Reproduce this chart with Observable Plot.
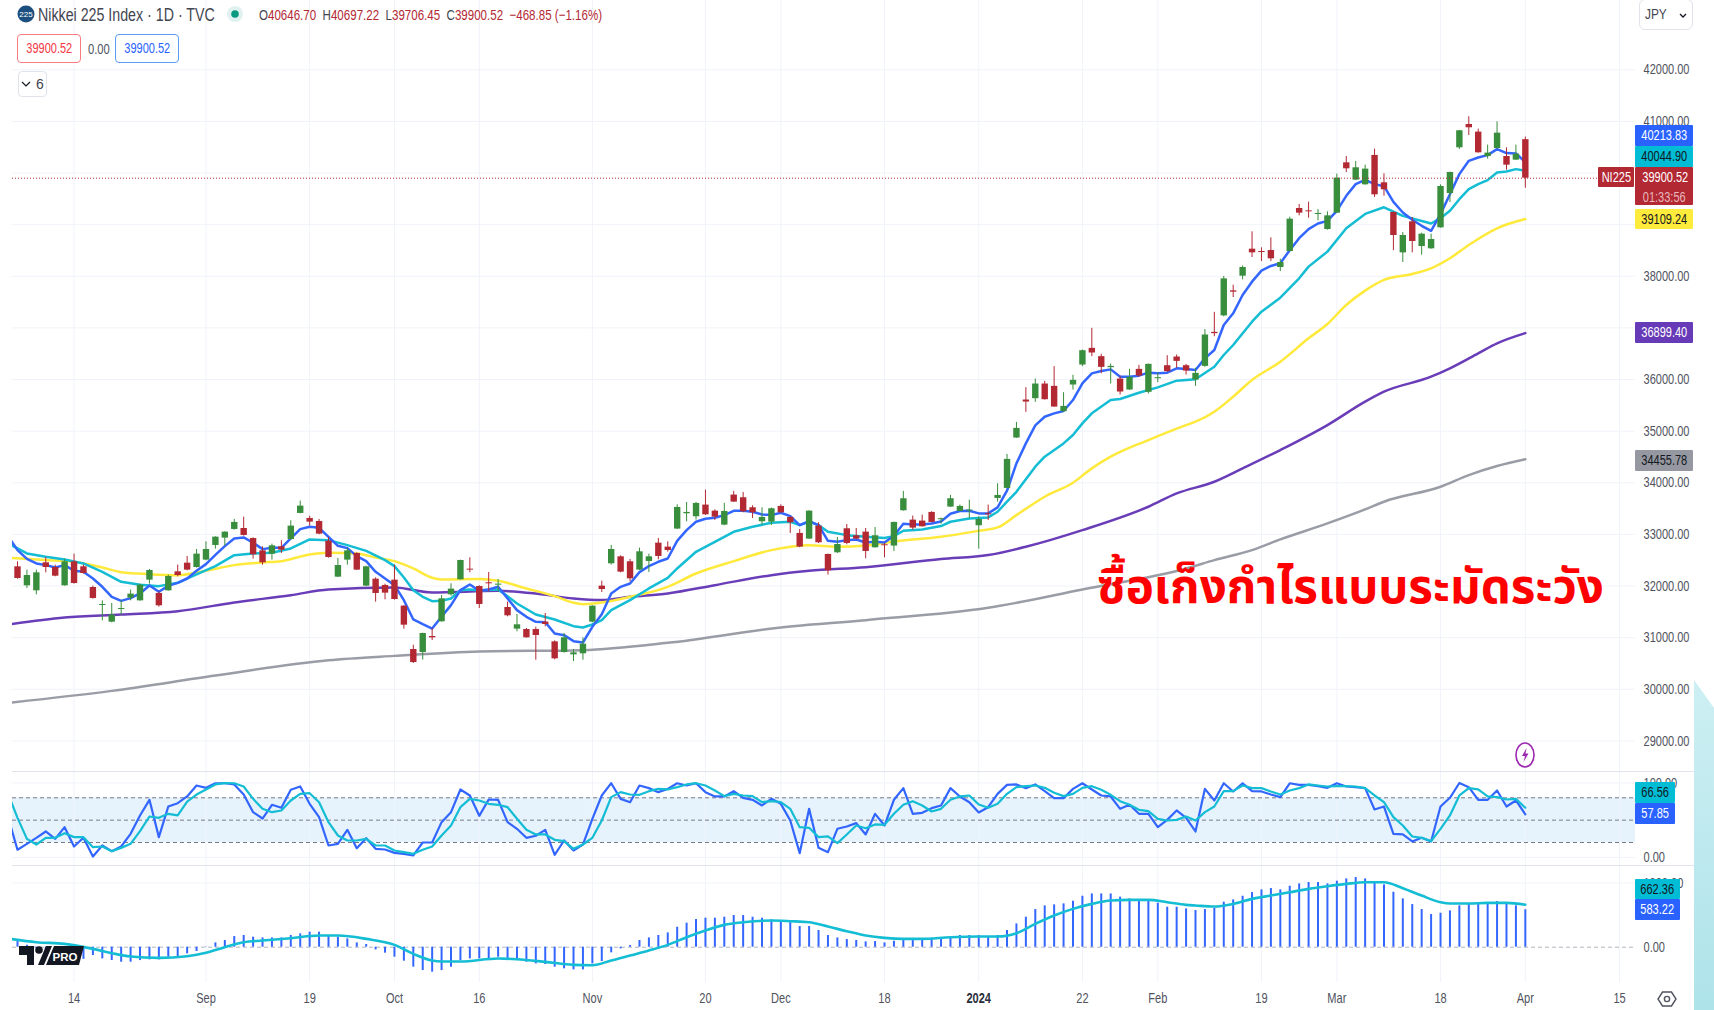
<!DOCTYPE html>
<html><head><meta charset="utf-8">
<script src="https://cdn.jsdelivr.net/npm/d3@7"></script>
<script src="https://cdn.jsdelivr.net/npm/@observablehq/plot@0.6"></script>
<style>
html,body{margin:0;padding:0;background:#fff;width:1714px;height:1010px;overflow:hidden}
#page{position:relative;width:1714px;height:1010px;font-family:"Liberation Sans",sans-serif;color:#131722}
</style></head><body><div id="page"></div>
<script>
const open=[32372,32004,31907,32450,32359,32004,32469,32372,31972,31623,
31300,31546,31765,31713,32114,31856,31907,32275,32443,32359,
32502,32786,32928,33096,33115,32921,32682,32618,32760,32902,
33406,33309,33251,32870,32172,32502,32631,31998,32133,32011,
32114,31610,30770,30712,31022,31307,31830,32121,32327,31991,
32063,32017,31584,31165,31158,31158,31300,30919,30712,30667,
30687,31300,31998,32431,32566,32470,32308,32476,32831,32754,
33103,33400,33342,33568,33451,33180,33762,33710,33516,33245,
33238,33542,33329,33019,32909,33161,32612,32644,33109,32973,
33044,32741,32799,32774,33458,33277,33258,33426,33284,33529,
33445,33452,33168,33400,33697,33891,34867,35603,35629,35913,
35868,35377,35894,36281,36604,36443,36230,36010,35797,36197,
35752,36016,36268,36436,36268,35991,36255,36914,37233,37718,
38002,38525,38480,38499,38170,38480,39313,39268,39197,38906,
39223,40198,39863,39772,40341,39811,39236,38454,39055,38577,
38532,38939,39604,40489,40941,40793,40321,40476,40321,40250,40646.70];
const close=[32146,32204,32256,32359,32191,32469,32049,32243,31759,31642,
31436,31565,31843,32017,32301,31617,32185,32204,32308,32618,
32708,32947,33044,33232,32980,32605,32450,32779,32695,33161,
33548,33238,33005,32553,32398,32682,32308,32372,31856,31862,
31739,31242,30518,31080,30996,31752,31940,32495,32308,31643,
32043,32037,31423,31249,30997,31042,31255,30590,30997,30706,
30874,31610,31933,32708,32269,32140,32663,32566,32573,32689,
33522,33426,33600,33380,33335,33445,33626,33438,33419,33329,
33497,33419,33225,32754,33451,32838,32295,32805,32825,32909,
32670,32974,32780,33232,33691,33122,33148,33232,33303,33691,
33542,33471,33290,33381,33755,34453,35054,35564,35913,35609,
35467,35480,35984,36559,36514,36236,36255,35758,36042,36068,
36294,36036,36152,36352,36165,36120,36863,36889,37950,37692,
38170,38454,38461,38338,38267,39107,39223,39249,39217,39171,
39901,40082,40102,40076,39578,39675,38790,38790,38674,38816,
38713,39740,40011,40819,40877,40392,40386,40773,40153,40366,39900.52];
const high=[32469,32308,32308,32553,32405,32521,32618,32405,31998,31713,
31662,31713,31920,32036,32321,31888,32211,32405,32573,32708,
32857,32954,33051,33290,33335,32934,32760,32812,32876,33264,
33645,33354,33290,32941,32534,32728,32644,32385,32159,32036,
32405,31623,30854,31087,31177,31817,32043,32502,32547,32004,
32263,32127,31688,31449,31177,31203,31468,30938,31081,30770,
30997,31617,32095,32786,32586,32515,32734,32618,32922,32857,
33574,33619,33619,33858,33477,33600,33833,33813,33555,33516,
33510,33574,33342,33096,33458,33225,32618,32941,33193,33115,
33115,33135,32825,33239,33833,33355,33374,33439,33316,33755,
33568,33665,33342,33568,33981,34550,35170,35842,36010,35965,
36249,35745,36081,36572,36992,36488,36301,36068,36197,36275,
36301,36133,36462,36475,36294,36217,36966,37302,37996,37828,
38202,38861,38551,38745,38332,39145,39391,39436,39294,39249,
39979,40321,40224,40153,40463,39985,39249,38848,39139,38835,
38816,39772,40018,40825,41090,40851,40541,40993,40489,40541,40697.22];
const low=[32133,31952,31830,32256,32179,31998,32036,32230,31746,31326,
31287,31436,31713,31707,32036,31591,31901,32179,32295,32347,
32489,32715,32773,33083,32967,32521,32405,32502,32631,32889,
33400,33161,32993,32540,32166,32405,32301,31985,31688,31733,
31726,31164,30499,30564,30945,31300,31804,32114,32256,31565,
31895,31888,31404,31113,30990,30564,31210,30570,30699,30538,
30564,31287,31875,32405,32256,32082,32302,32263,32508,32657,
33096,33245,33277,33367,33271,33167,33619,33419,33309,33180,
33174,33406,33019,32741,32902,32825,32211,32631,32799,32896,
32528,32735,32547,32670,33452,33084,33142,33226,33200,33523,
33439,33310,32715,33271,33626,33885,34860,35364,35558,35603,
35461,35370,35797,36249,36443,36113,35913,35700,35790,36042,
35719,35939,36139,36217,36087,35868,36236,36830,37214,37589,
37931,38364,38286,38286,38092,38474,39171,39126,39074,38894,
39217,40011,39856,39766,39527,39552,38499,38267,38454,38409,
38525,38932,39430,40457,40728,40386,40270,40463,40056,40244,39706.45];

// moving averages: blue has one value per bar from bar -1, the others are read at the listed bars
const blueVals=[32967,32695,32527,32437,32405,32360,32405,32295,32275,32146,
31985,31790,31713,31765,31856,32011,31888,32004,32062,32146,
32295,32424,32605,32773,32921,32941,32838,32715,32740,32740,
32921,33102,33148,33128,32954,32779,32734,32579,32482,32275,
32146,32017,31726,31352,31261,31177,31404,31630,31920,32030,
31907,31933,31985,31759,31533,31404,31307,31300,31081,31048,
30932,30906,31210,31455,31856,31985,32050,32269,32386,32470,
32534,32876,33083,33245,33303,33322,33374,33458,33458,33438,
33387,33374,33419,33355,33180,33258,33180,32876,32857,32889,
32902,32844,32857,32845,32974,33206,33193,33193,33213,33251,
33400,33452,33458,33407,33407,33523,33846,34376,34763,35112,
35280,35345,35390,35603,35926,36120,36165,36197,36055,36055,
36075,36133,36120,36133,36217,36204,36184,36410,36572,37056,
37283,37638,37896,38110,38200,38252,38506,38738,38913,39023,
39074,39268,39559,39785,39869,39785,39746,39443,39236,39094,
38978,38881,39204,39591,39979,40237,40302,40347,40463,40386,
40379,40213.83];
const tealBars=[-1,1,3,5,7,9,11,13,15,17,19,21,23,25,27,29,31,33,35,37,39,40,41,42,43,44,
45,46,47,48,49,51,52,53,55,57,59,60,61,62,63,65,67,69,70,72,74,76,78,80,82,83,84,85,86,88,90,
92,93,94,96,98,99,101,103,104,105,106,108,109,111,112,113,114,116,117,119,121,123,125,127,128,129,131,132,133,134,136,137,139,141,143,145,147,150,151,152,153,154,155,156,157,158,159,160];
const tealVals=[32825,32631,32566,32515,32437,32275,32082,32024,31998,32062,32224,32385,32598,32631,32644,32728,32902,32889,32792,32682,32502,32385,32166,31920,31791,31707,
31714,31759,31920,31933,31920,31933,31804,31662,31449,31352,31223,31197,31255,31339,31533,31727,31953,32159,32340,32663,32857,33051,33148,33225,33245,33180,33245,33180,33051,32986,32954,
32929,32967,33071,33096,33161,33245,33310,33329,33439,33633,33826,34311,34505,34763,34925,35151,35345,35603,35622,35745,35848,35978,36004,36249,36475,36669,37121,37315,37450,37586,37961,38187,38478,38930,39208,39337,39171,39023,39126,39268,39494,39688,39785,39863,40011,40030,40076,40044.90];
const yellowBars=[-1,3,6,9,11,14,17,20,23,26,28,31,33,36,38,40,42,44,45,49,51,54,57,59,60,62,65,69,72,76,80,84,87,90,93,98,102,104,106,109,112,114,116,120,124,125,127,129,131,134,137,139,141,143,145,148,150,152,154,157,160];
const yellowVals=[32547,32502,32469,32359,32269,32230,32211,32295,32405,32456,32482,32611,32644,32631,32553,32482,32340,32159,32127,32134,32101,31953,31804,31675,31649,31681,31791,31985,32243,32482,32696,32792,32760,32786,32864,32954,33071,33135,33374,33730,34001,34279,34505,34828,35118,35183,35377,35668,35991,36346,36798,37076,37444,37722,37929,38045,38155,38349,38607,38930,39109.24];
const purpleBars=[-1,5,11,17,23,29,33,40,44,51,55,59,62,65,69,74,80,84,90,98,103,107,113,120,123,127,130,134,139,143,145,150,152,155,157,160];
const purpleVals=[31255,31390,31449,31513,31681,31823,31933,31972,31875,31907,31856,31759,31727,31791,31856,32017,32211,32295,32366,32522,32599,32761,33083,33536,33794,34020,34279,34634,35118,35571,35764,36055,36217,36507,36701,36899.40];
const greyBars=[-1,10,21,33,40,49,60,69,81,90,103,113,124,127,131,134,139,143,145,151,154,157,160];
const greyVals=[29736,29969,30266,30562,30647,30732,30758,30900,31197,31339,31579,31934,32341,32502,32696,32903,33213,33484,33633,33923,34149,34324,34455.78];

// stochastic: one value per bar from bar -1
const stochK=[54,10.2,18.2,26.3,34.8,24.9,40.6,14.6,26.3,1.2,16,8.4,14.6,31.6,56.3,77.3,27.2,68.3,72.8,81.8,96.5,93.4,99.5,99.5,98,84.4,60.7,52.2,70.6,66.6,90.7,95.2,71.9,54,16,18.2,37,12.4,25.8,11.5,10.6,6.1,4.8,2.6,20,20,47.3,60.7,91.2,83.1,55.8,77.7,77.3,47.3,38.4,26.3,29,37,3.5,22.7,9.3,17.3,51.8,83.1,99.6,78.6,74.1,96.5,93,87.6,92,99.5,96.5,99.5,87.6,81.8,81.8,88.9,80,77.3,69.7,78.6,71.9,49.5,5.7,65.2,12.8,7,38.4,41.5,46,30.8,58.5,42.8,77.3,93,58.5,59.8,66.1,69.7,93,81.8,74.1,60.3,67.4,85.3,97.4,97.9,93,97.9,88.9,79.5,79.5,92,99.5,91.2,83.1,81.8,65.2,70.6,58.5,58.5,40.6,50.4,63,53,34.8,92,76.4,99.5,88.5,99.5,88.9,88.5,84.4,80.9,99.5,97.4,97.4,95.6,93.4,99.6,95.2,94.3,93,64.3,68.3,31.7,30.8,21.4,26.3,21.4,68.3,80,99.9,94.3,77.3,77.3,89.8,68.3,76.4,57.85];
const stochD=[85.3,53.1,24.9,17.3,26.3,26.3,32.5,27.2,27.2,13.7,14.6,8.4,12.8,18.2,35.2,54.9,53.1,58.5,56.3,75,84.4,91.2,97.9,99.6,99.5,95.2,78.6,65.2,60.7,63,76.4,85.3,86.2,74.1,47.3,29.4,22.7,22.7,24.9,16,16,9.3,7,4.8,10.2,14.6,29.4,42.8,67.4,78.6,76.4,71.9,70.6,67.4,51.8,37,30.8,30.8,23.6,21.8,11.5,17.3,26.3,49.5,80.9,87.6,84.4,84,88.9,92,91.2,94.3,97.9,99.6,96.5,89.8,82.2,85.3,83.1,82.2,74.1,75.5,74.1,65.2,40.6,39.7,27.2,28.1,19.1,30.8,42.8,39.2,44.2,43.7,58.5,70.6,75.5,69.7,61.6,65.2,77.3,81.8,83.1,71,66.6,71.9,85.3,94.3,95.6,96.5,93.4,86.7,82.2,85.3,93.4,95.6,90.7,84,75.5,70.6,63.9,62.1,51.8,49.5,50.4,55,49.5,60.7,68.3,88.9,88.9,96.5,93,93,88.5,84.4,89.8,93,97.9,96.5,95.2,95.6,95.6,95.2,93,83.1,74.1,54,42.8,28.1,26.3,21.8,38.4,56.3,83.1,93,91.2,81.8,80.9,77.7,78.6,66.56];

// MACD: histogram per bar from bar 0, signal read at the listed bars
const macdHist=[88,30,-20,-80,-120,-150,-180,-190,-130,-182,-208,-234,-234,-208,-197,-197,-156,-145,-104,-67,5,67,104,166,182,156,145,145,145,182,208,234,234,182,156,130,67,42,-42,-93,-156,-218,-311,-363,-389,-363,-311,-208,-182,-182,-182,-156,-182,-192,-234,-260,-270,-311,-337,-353,-353,-260,-223,-88,-26,26,104,145,182,223,311,374,431,452,452,467,493,493,467,452,426,405,405,322,322,260,182,145,119,104,83,88,67,93,130,130,130,140,130,140,182,182,182,156,182,260,363,467,586,644,659,675,716,794,830,830,830,779,753,727,727,685,623,623,597,571,586,607,701,737,794,851,893,913,893,950,986,1007,1007,986,1028,1064,1085,1064,1012,971,856,753,664,586,509,529,566,644,670,685,685,711,690,644,583.22];
const signalBars=[-1,2,5,8,10,12,15,18,20,22,24,26,29,32,34,37,40,42,44,45,47,51,53,56,59,61,63,65,67,69,71,73,75,77,80,82,84,86,88,90,92,94,96,99,102,104,106,108,110,112,114,116,118,120,122,124,125,127,129,131,133,135,137,139,141,143,145,147,149,151,152,154,156,158,160];
const signalVals=[135,78,52,-26,-93,-145,-166,-140,-88,0,78,104,140,182,182,130,36,-104,-208,-223,-223,-176,-187,-228,-275,-280,-208,-130,-52,36,156,260,348,389,415,405,389,322,249,182,145,130,130,156,166,166,218,363,493,597,675,727,737,737,701,659,649,633,675,753,804,856,908,950,986,1012,1012,919,804,701,680,680,690,690,662.36];

const tickBars=[6,20,31,40,49,61,73,81,92,113,121,132,140,151,160,170];
const tickLabels=["14","Sep","19","Oct","16","Nov","20","Dec","18","22","Feb","19","Mar","18","Apr","15"];
const yearBar=[102], yearLabel="2024";
const priceTicks=[29000,30000,31000,32000,33000,34000,35000,36000,37000,38000,39000,40000,41000,42000];
const lastClose=39900.52;
const headline="ซื้อเก็งกำไรแบบระมัดระวัง";

const C={grid:"#f0f3fa",up:"#388e3c",down:"#b22833",blue:"#3366ff",teal:"#14bdd3",yellow:"#ffe93b",purple:"#6a3db8",grey:"#9a9ca6",axis:"#50535e"};
const FONT='"Liberation Sans",sans-serif';
const NARROW=0.76;
const xScale={domain:[-0.5306,171.69],range:[12,1635]};
const bars=open.map((o,i)=>({i,o,c:close[i],h:high[i],l:low[i],col:close[i]>=o?C.up:C.down}));
const zip=(b,v)=>b.map((x,k)=>({x,v:v[k]}));
const fromMinus1=v=>v.map((y,k)=>({x:k-1,v:y}));
const page=document.getElementById("page");
const base=(top,height,marginBottom,y,marks)=>{
  const p=Plot.plot({width:1714,height,marginLeft:12,marginRight:79,marginTop:0,marginBottom,x:{...xScale,axis:null},y:{...y,axis:null},
    style:{fontFamily:FONT,fontSize:"14.5px",background:"transparent",overflow:"visible",position:"absolute",left:"0",top:top+"px"},marks});
  page.append(p);
  p.querySelectorAll("text").forEach(t=>{t.setAttribute("lengthAdjust","spacingAndGlyphs");t.setAttribute("textLength",(t.getComputedTextLength()*NARROW).toFixed(1));});
  return p;};
const ln=(d,stroke,curve="linear",w=2.5)=>Plot.line(d,{x:"x",y:"v",stroke,strokeWidth:w,curve,clip:true});
const tick=(vals)=>Plot.axisY(vals,{anchor:"right",tickSize:0,tickPadding:8,fill:C.axis,fontSize:14.5,tickFormat:d3.format(".2f"),label:null});

base(0,772,0,{domain:[29000,42000],range:[740.4,69.3]},[
  Plot.ruleY(priceTicks,{stroke:C.grid}),
  Plot.ruleX(tickBars.concat(yearBar),{stroke:C.grid}),
  ln(zip(greyBars,greyVals),C.grey,"monotone-x"),
  ln(zip(purpleBars,purpleVals),C.purple,"monotone-x"),
  ln(zip(yellowBars,yellowVals),C.yellow,"monotone-x"),
  ln(zip(tealBars,tealVals),C.teal),
  ln(fromMinus1(blueVals),C.blue),
  Plot.ruleX(bars,{x:"i",y1:"l",y2:"h",stroke:"col",strokeWidth:1}),
  Plot.ruleX(bars,{x:"i",y1:"o",y2:"c",stroke:"col",strokeWidth:6.4}),
  Plot.ruleY([lastClose],{x1:-0.5306,x2:168,stroke:C.down,strokeDasharray:"1,2"}),
  tick(priceTicks)
]);
const stochBand=[{a:20,b:80}];
base(772,94,0,{domain:[0,100],range:[84.9,10.4]},[
  Plot.rect(stochBand,{x1:xScale.domain[0],x2:xScale.domain[1],y1:"a",y2:"b",fill:"#e6f3fd"}),
  Plot.ruleY([0,100],{stroke:C.grid}),
  Plot.ruleX(tickBars.concat(yearBar),{stroke:C.grid}),
  Plot.ruleY([20,50,80],{stroke:"#787b86",strokeDasharray:"4,3"}),
  ln(fromMinus1(stochK),C.blue,"linear",2.2),
  ln(fromMinus1(stochD),C.teal,"linear",2.2),
  tick([0,100])
]);
base(866,144,28,{domain:[0,1000],range:[80.7,16.5]},[
  Plot.ruleY([1000],{stroke:C.grid}),
  Plot.ruleX(tickBars.concat(yearBar),{stroke:C.grid}),
  Plot.ruleY([0],{stroke:"#b2b5be",strokeDasharray:"4,3"}),
  Plot.ruleX(macdHist.map((v,i)=>({i,v})),{x:"i",y1:0,y2:"v",stroke:C.blue,strokeWidth:2}),
  ln(zip(signalBars,signalVals),C.teal,"monotone-x",2.6),
  tick([0,1000]),
  Plot.axisX(tickBars,{anchor:"bottom",tickSize:0,tickPadding:10,fill:C.axis,fontSize:14.5,label:null,tickFormat:d=>tickLabels[tickBars.indexOf(d)]}),
  Plot.axisX(yearBar,{anchor:"bottom",tickSize:0,tickPadding:10,fill:"#2a2e39",fontSize:14.5,fontWeight:"bold",label:null,tickFormat:()=>yearLabel})
]);

const add=(html,css)=>{const d=document.createElement("div");d.innerHTML=html;d.style.cssText=css;page.append(d);return d;};
const sq=(s,f=NARROW)=>`<span style="display:inline-block;transform:scaleX(${f})">${s}</span>`;
const box=(s,y,h,w,bg,col,x=1635,extra="")=>add(sq(s),`position:absolute;left:${x}px;top:${y}px;width:${w}px;height:${h}px;background:${bg};color:${col};display:flex;align-items:center;justify-content:center;font-size:14.5px;border-radius:1px;line-height:1;white-space:nowrap;box-sizing:border-box;${extra}`);
const txt=(s,x,y,size,col,f=1,extra="")=>add(s,`position:absolute;left:${x}px;top:${y}px;font-size:${size}px;color:${col};line-height:1;white-space:nowrap;transform-origin:left center;transform:scaleX(${f});${extra}`);

// panel dividers and the teal strip
add("","position:absolute;left:12px;top:771px;width:1682px;height:1px;background:#e0e3eb");
add("","position:absolute;left:12px;top:865px;width:1682px;height:1px;background:#e0e3eb");
add("","position:absolute;left:1694px;top:680px;width:20px;height:330px;background:linear-gradient(#cdeff3,#aee3ea);clip-path:polygon(0 0,100% 28px,100% 100%,0 100%)");

// price labels
box("40213.83",125,21,58,"#2962ff","#fff");
box("40044.90",146,21,58,"#00bcd4","#131722");
add(`<div>${sq("39900.52")}</div><div style="color:#e8b9bd;margin-top:5px">${sq("01:33:56")}</div>`,"position:absolute;left:1635px;top:167px;width:58px;height:38px;background:#b22833;color:#fff;font-size:14.5px;text-align:center;line-height:1;padding-top:3px;box-sizing:border-box;border-radius:1px");
box("NI225",167,20,36,"#b22833","#fff",1598);
box("39109.24",209,20,58,"#ffeb3b","#131722");
box("36899.40",322,21,58,"#673ab7","#fff");
box("34455.78",450,21,58,"#9598a1","#131722");
box("66.56",782,21,40,"#00bcd4","#131722");
box("57.85",803,21,40,"#2962ff","#fff");
box("662.36",879,20,45,"#00bcd4","#131722");
box("583.22",899,21,45,"#2962ff","#fff");

// legend
add('<svg width="18" height="18" style="display:block"><circle cx="9" cy="9" r="8.5" fill="#1c4e80"/><text x="9" y="12" font-size="8" fill="#fff" text-anchor="middle">225</text></svg>',"position:absolute;left:17px;top:5px;height:18px");
txt("Nikkei 225 Index · 1D · TVC",38,6,18,"#434651",0.79);
add('<svg width="18" height="18" style="display:block"><circle cx="9" cy="9" r="8" fill="#e0f2ef"/><circle cx="9" cy="9" r="3.8" fill="#089981"/></svg>',"position:absolute;left:226px;top:5px;height:18px");
const R="color:#b22833";
txt(`O<span style="${R}">40646.70</span>&nbsp;&nbsp;H<span style="${R}">40697.22</span>&nbsp;&nbsp;L<span style="${R}">39706.45</span>&nbsp;&nbsp;C<span style="${R}">39900.52</span>&nbsp;&nbsp;<span style="${R}">−468.85 (−1.16%)</span>`,259,7,15,"#434651",0.77);
box("39900.52",34,29,64,"#fff","#f23645",17,"border:1px solid #f77c80;border-radius:4px");
txt("0.00",88,42,14,"#50535e",0.8);
box("39900.52",34,29,64,"#fff","#2962ff",115,"border:1px solid #5b9cf6;border-radius:4px");
add('<svg width="10" height="7" style="margin-right:5px"><path d="M1 1l4 4 4-4" fill="none" stroke="#131722" stroke-width="1.2"/></svg>6',"position:absolute;left:18px;top:71px;width:29px;height:26px;display:flex;align-items:center;justify-content:center;background:#fff;color:#434651;font-size:14px;border:1px solid #e0e3eb;border-radius:4px;box-sizing:border-box");
add(sq("JPY",0.85)+'<svg width="8" height="6" style="position:absolute;right:5px;top:13px"><path d="M1 1l3 3 3-3" fill="none" stroke="#131722" stroke-width="1.3"/></svg>',"position:absolute;left:1639px;top:-1px;width:54px;height:31px;box-sizing:border-box;border:1px solid #e0e3eb;border-radius:6px;font-size:14px;color:#434651;padding:7px 0 0 3px;line-height:1");

// headline
txt(headline,1097,565,47.5,"#ff0000",1,'font-family:"Noto Sans Thai","Noto Sans","DejaVu Sans",sans-serif;font-weight:700');

// icons: lightning, TradingView mark, settings
add('<svg width="22" height="28" style="display:block"><ellipse cx="11" cy="14" rx="9" ry="12" fill="#fff" stroke="#9c27b0" stroke-width="1.6"/><path d="M12.5 7L8 15h3l-1.5 6 5-8.500h-3z" fill="#9c27b0"/></svg>',"position:absolute;left:1514px;top:741px;height:28px");
add('<svg width="66" height="20" style="display:block"><path d="M0 0h15v19H8V9H0z" fill="#131722"/><circle cx="20" cy="4" r="3.800" fill="#131722"/><path d="M27 0h6l-8 19h-6zM35 0h30l-5 19H27z" fill="#131722"/><text x="46" y="14.500" font-size="11.500" font-weight="700" fill="#fff" text-anchor="middle" font-family="Liberation Sans">PRO</text></svg>',"position:absolute;left:19px;top:946px;height:20px");
add('<svg width="20" height="20" style="display:block"><path d="M5.500 3h9l4.500 7-4.500 7h-9L1 10z" fill="none" stroke="#50535e" stroke-width="1.4"/><circle cx="10" cy="10" r="2.600" fill="none" stroke="#50535e" stroke-width="1.4"/></svg>',"position:absolute;left:1657px;top:989px;height:20px");
</script></body></html>
